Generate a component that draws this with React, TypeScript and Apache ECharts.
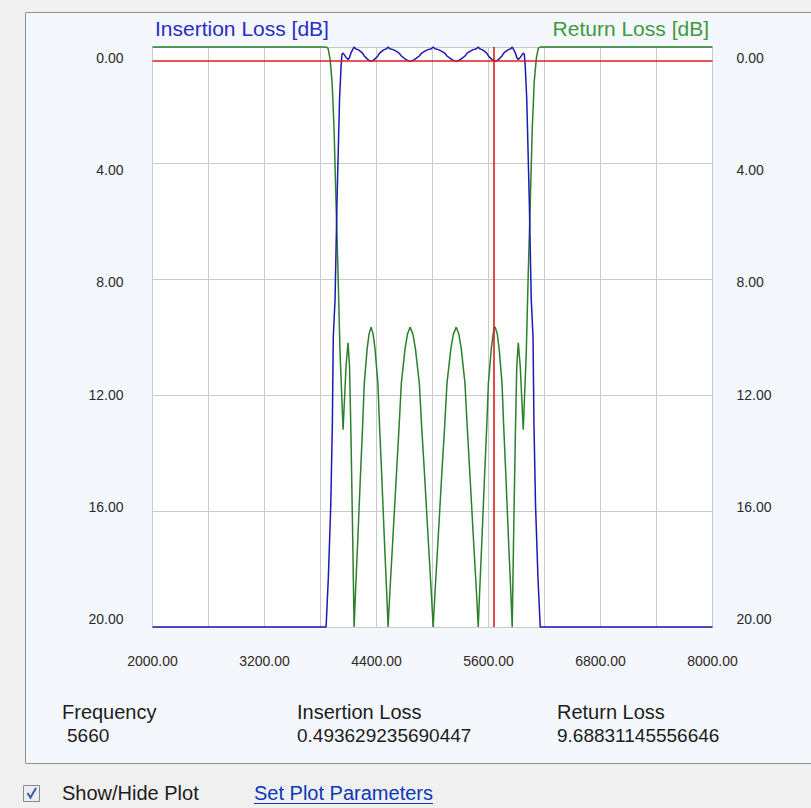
import React, { useEffect, useRef } from "react";
import * as echarts from "echarts";

const FONT = '"Liberation Sans", Arial, sans-serif';

// axis ranges / ticks
const FREQ_MIN = 2000;
const FREQ_MAX = 8000;
const FREQ_GRID_STEP = 600;
const FREQ_LABEL_STEP = 1200;
const DB_MIN = 0;
const DB_MAX = 20;
const DB_STEP = 4;

// Return loss (green) — frequency [MHz] and value [dB]
const returnLossFreq = [
  2000, 3860, 3881, 3902, 3924, 3945, 3966, 3988, 4009, 4042, 4074, 4095, 4111, 4127, 4143, 4160,
  4175, 4202, 4229, 4251, 4269, 4300, 4320, 4342, 4364, 4384, 4415, 4433, 4455, 4482, 4509, 4524,
  4543, 4578, 4614, 4642, 4666, 4706, 4732, 4760, 4790, 4817, 4859, 4884, 4914, 4951, 4987, 5007,
  5027, 5063, 5100, 5130, 5155, 5197, 5224, 5254, 5282, 5308, 5348, 5372, 5400, 5436, 5471, 5490,
  5505, 5532, 5559, 5581, 5599, 5630, 5650, 5660, 5672, 5694, 5714, 5745, 5763, 5785, 5812, 5839, 5854,
  5871, 5887, 5903, 5919, 5940, 5972, 6005, 6026, 6048, 6069, 6090, 6112, 6133, 6154, 8000,
];
const returnLossDb = [
  0, 0, 0.05, 0.4, 1.2, 2.8, 5.3, 7.8, 10.5, 13.2, 11.0, 10.2, 11.0, 13.5, 16.5, 20,
  18.8, 16.8, 14.7, 13.1, 11.6, 10.4, 9.9, 9.66, 9.9, 10.4, 11.6, 13.1, 14.7, 16.8, 18.8, 20,
  18.8, 16.8, 14.7, 13.1, 11.6, 10.4, 9.9, 9.66, 9.9, 10.4, 11.6, 13.1, 14.7, 16.8, 18.8, 20,
  18.8, 16.8, 14.7, 13.1, 11.6, 10.4, 9.9, 9.66, 9.9, 10.4, 11.6, 13.1, 14.7, 16.8, 18.8, 20,
  18.8, 16.8, 14.7, 13.1, 11.6, 10.4, 9.9, 9.69, 9.66, 9.9, 10.4, 11.6, 13.1, 14.7, 16.8, 18.8, 20,
  16.5, 13.5, 11.0, 10.2, 11.0, 13.2, 10.5, 7.8, 5.3, 2.8, 1.2, 0.4, 0.05, 0, 0,
];

// Insertion loss (blue)
const insertionLossFreq = [
  2000, 3860, 3884, 3910, 3927, 3937, 3956, 3977, 4004, 4020, 4030, 4042, 4074, 4095, 4111, 4127, 4143, 4160,
  4175, 4202, 4229, 4251, 4269, 4300, 4320, 4342, 4364, 4384, 4415, 4433, 4455, 4482, 4509, 4524,
  4543, 4578, 4614, 4642, 4666, 4706, 4732, 4760, 4790, 4817, 4859, 4884, 4914, 4951, 4987, 5007,
  5027, 5063, 5100, 5130, 5155, 5197, 5224, 5254, 5282, 5308, 5348, 5372, 5400, 5436, 5471, 5490,
  5505, 5532, 5559, 5581, 5599, 5630, 5650, 5660, 5672, 5694, 5714, 5745, 5763, 5785, 5812, 5839, 5854,
  5871, 5887, 5903, 5919, 5940, 5972, 5984, 5994, 6010, 6037, 6058, 6077, 6087, 6104, 6130, 6154, 8000,
];
const insertionLossDb = [
  20, 20, 18.3, 15.8, 13.0, 10.0, 8.7, 5.3, 1.8, 0.69, 0.25, 0.21, 0.36, 0.43, 0.36, 0.2, 0.1, 0.0,
  0.06, 0.09, 0.15, 0.21, 0.31, 0.41, 0.46, 0.495, 0.46, 0.41, 0.31, 0.21, 0.15, 0.09, 0.06, 0.0,
  0.06, 0.09, 0.15, 0.21, 0.31, 0.41, 0.46, 0.495, 0.46, 0.41, 0.31, 0.21, 0.15, 0.09, 0.06, 0.0,
  0.06, 0.09, 0.15, 0.21, 0.31, 0.41, 0.46, 0.495, 0.46, 0.41, 0.31, 0.21, 0.15, 0.09, 0.06, 0.0,
  0.06, 0.09, 0.15, 0.21, 0.31, 0.41, 0.46, 0.4936, 0.495, 0.46, 0.41, 0.31, 0.21, 0.15, 0.09, 0.06, 0.0,
  0.1, 0.2, 0.36, 0.43, 0.36, 0.21, 0.25, 0.69, 1.8, 5.3, 8.7, 10.0, 13.0, 15.8, 18.3, 20, 20,
];

// cursor readout
const cursorFrequency = 5660;
const cursorInsertionLoss = 0.493629235690447;
const cursorReturnLoss = 9.68831145556646;

function measure(text: string, size: number): number {
  const c = document.createElement("canvas").getContext("2d");
  if (!c) return text.length * size * 0.5;
  c.font = `${size}px ${FONT}`;
  return c.measureText(text).width;
}

export default function App() {
  const ref = useRef<HTMLDivElement>(null);

  useEffect(() => {
    if (!ref.current) return;
    const chart = echarts.init(ref.current, undefined, { renderer: "svg" });

    const rlData = returnLossFreq.map((f, i) => [f - FREQ_MIN, returnLossDb[i]]);
    const ilData = insertionLossFreq.map((f, i) => [f - FREQ_MIN, insertionLossDb[i]]);
    const span = FREQ_MAX - FREQ_MIN;

    const labelAxisBase = {
      type: "value",
      gridIndex: 1,
      inverse: true,
      min: DB_MIN,
      max: DB_MAX,
      interval: DB_STEP,
      axisLine: { show: false },
      axisTick: { show: false },
      splitLine: { show: false },
    };

    const txt = (text: string, x: number, y: number, size: number, fill: string, align = "left") => ({
      type: "text",
      x,
      y,
      silent: true,
      style: {
        text,
        fill,
        font: `${size}px ${FONT}`,
        align,
        verticalAlign: "middle",
      },
    });

    const linkText = "Set Plot Parameters";
    const linkSize = 20;
    const linkX = 254;
    const linkW = measure(linkText, linkSize);

    const option: any = {
      animation: false,
      backgroundColor: "#f0f0f0",
      textStyle: { fontFamily: FONT },
      grid: [
        { left: 152.5, top: 47, width: 560, height: 580, show: false },
        { left: 152.5, top: 58, width: 560, height: 561, show: false },
      ],
      xAxis: [
        {
          type: "value",
          gridIndex: 0,
          min: 0,
          max: span,
          interval: FREQ_GRID_STEP,
          axisLine: { show: false },
          axisTick: { show: false },
          splitLine: { show: true, lineStyle: { color: "#c9c9c9", width: 1 } },
          axisLabel: {
            margin: 27,
            fontSize: 14,
            color: "#2a2a2a",
            fontFamily: FONT,
            formatter: (v: number) =>
              Math.round(v) % FREQ_LABEL_STEP === 0 ? (v + FREQ_MIN).toFixed(2) : "",
          },
        },
        { type: "value", gridIndex: 1, min: 0, max: 1, show: false },
      ],
      yAxis: [
        {
          type: "value",
          gridIndex: 0,
          inverse: true,
          min: DB_MIN,
          max: DB_MAX,
          interval: DB_STEP,
          axisLine: { show: false },
          axisTick: { show: false },
          axisLabel: { show: false },
          splitLine: { show: true, lineStyle: { color: "#c9c9c9", width: 1 } },
        },
        {
          ...labelAxisBase,
          position: "left",
          axisLabel: {
            margin: 29,
            fontSize: 14,
            color: "#2a2a2a",
            fontFamily: FONT,
            formatter: (v: number) => v.toFixed(2),
          },
        },
        {
          ...labelAxisBase,
          position: "right",
          axisLabel: {
            margin: 24,
            fontSize: 14,
            color: "#2a2a2a",
            fontFamily: FONT,
            formatter: (v: number) => v.toFixed(2),
          },
        },
      ],
      series: [
        {
          type: "line",
          name: "Return Loss [dB]",
          xAxisIndex: 0,
          yAxisIndex: 0,
          data: rlData,
          showSymbol: false,
          symbol: "none",
          clip: false,
          lineStyle: { color: "#2c802c", width: 1.5 },
          z: 2,
        },
        {
          type: "line",
          name: "Insertion Loss [dB]",
          xAxisIndex: 0,
          yAxisIndex: 0,
          data: ilData,
          showSymbol: false,
          symbol: "none",
          clip: false,
          lineStyle: { color: "#1a1ab4", width: 1.5 },
          z: 3,
          markLine: {
            silent: true,
            symbol: ["none", "none"],
            label: { show: false },
            lineStyle: { color: "#e21b1b", width: 1.6, type: "solid" },
            data: [{ xAxis: cursorFrequency - FREQ_MIN }, { yAxis: cursorInsertionLoss }],
          },
        },
      ],
      graphic: [
        {
          type: "rect",
          z: -10,
          silent: true,
          shape: { x: 25.5, y: 12.5, width: 800, height: 751 },
          style: { fill: "#f4f7fc", stroke: "#8f8f8f", lineWidth: 1 },
        },
        {
          type: "rect",
          z: -9,
          silent: true,
          shape: { x: 152.5, y: 47, width: 560, height: 580 },
          style: { fill: "#ffffff" },
        },
        txt("Insertion Loss [dB]", 155, 28, 21, "#2b2bc6"),
        txt("Return Loss [dB]", 709, 28, 21, "#3d9a3d", "right"),
        txt("Frequency", 62, 712, 20, "#1c1c1c"),
        txt(String(cursorFrequency), 67, 735, 19, "#1c1c1c"),
        txt("Insertion Loss", 297, 712, 20, "#1c1c1c"),
        txt(String(cursorInsertionLoss), 297, 735, 19, "#1c1c1c"),
        txt("Return Loss", 557, 712, 20, "#1c1c1c"),
        txt(String(cursorReturnLoss), 557, 735, 19, "#1c1c1c"),
        {
          type: "rect",
          silent: true,
          shape: { x: 23.5, y: 785.5, width: 16, height: 16 },
          style: { fill: "#e9edf5", stroke: "#8a8a8a", lineWidth: 1 },
        },
        {
          type: "polyline",
          silent: true,
          shape: { points: [[27.5, 793], [30.5, 797.5], [36, 788]] },
          style: { stroke: "#3a5aa6", lineWidth: 2, fill: null },
        },
        txt("Show/Hide Plot", 62, 793, 20, "#1c1c1c"),
        txt(linkText, linkX, 793, linkSize, "#0a36b8"),
        {
          type: "line",
          silent: true,
          shape: { x1: linkX, y1: 803.5, x2: linkX + linkW, y2: 803.5 },
          style: { stroke: "#0a36b8", lineWidth: 1 },
        },
      ],
    };

    chart.setOption(option);
    return () => chart.dispose();
  }, []);

  return (
    <div
      ref={ref}
      style={{ position: "fixed", left: 0, top: 0, width: 811, height: 808 }}
    />
  );
}
